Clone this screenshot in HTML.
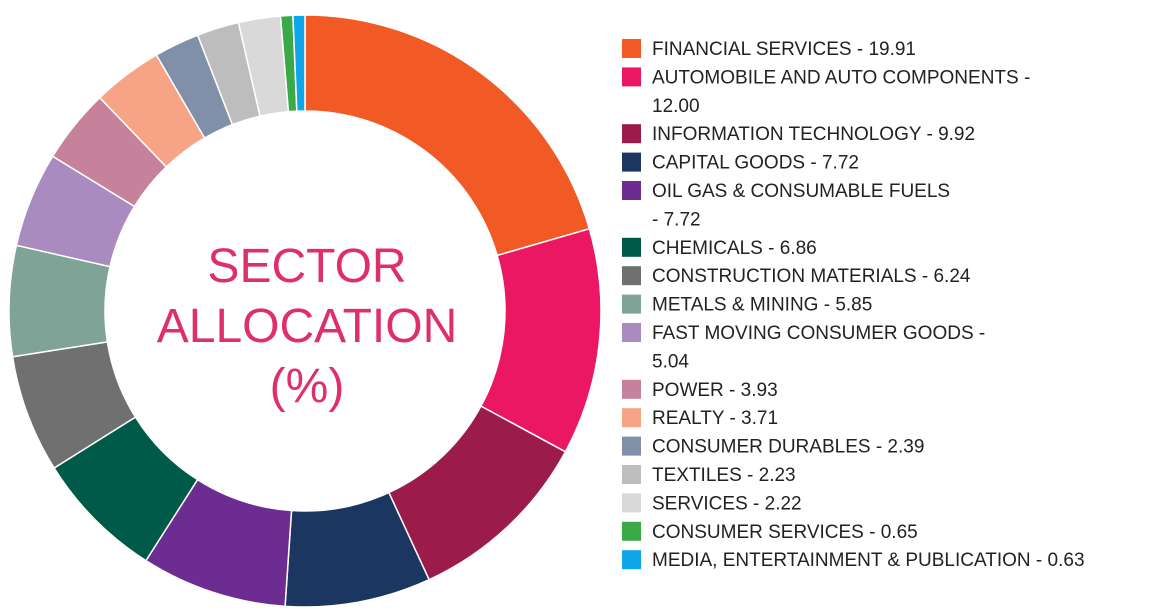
<!DOCTYPE html>
<html><head><meta charset="utf-8">
<style>
html,body{margin:0;padding:0;background:#fff;}
body{width:1168px;height:613px;overflow:hidden;position:relative;font-family:"Liberation Sans",sans-serif;}
svg{position:absolute;left:0;top:0;}
</style></head>
<body>
<svg id="chart" width="1168" height="613" viewBox="0 0 1168 613">
  <g id="slices"></g>
  <g id="center" font-family="Liberation Sans, sans-serif" font-size="48" fill="#df2f6b" text-anchor="middle">
    <text x="307" y="282">SECTOR</text>
    <text x="307" y="342">ALLOCATION</text>
    <text x="307" y="402">(%)</text>
  </g>
  <g id="legend" font-family="Liberation Sans, sans-serif" font-size="19" fill="#222"></g>
</svg>
<script>
const categories = ["FINANCIAL SERVICES","AUTOMOBILE AND AUTO COMPONENTS","INFORMATION TECHNOLOGY","CAPITAL GOODS","OIL GAS & CONSUMABLE FUELS","CHEMICALS","CONSTRUCTION MATERIALS","METALS & MINING","FAST MOVING CONSUMER GOODS","POWER","REALTY","CONSUMER DURABLES","TEXTILES","SERVICES","CONSUMER SERVICES","MEDIA, ENTERTAINMENT & PUBLICATION"];
const values = [19.91,12.00,9.92,7.72,7.72,6.86,6.24,5.85,5.04,3.93,3.71,2.39,2.23,2.22,0.65,0.63];
const labelLines = [["FINANCIAL SERVICES - 19.91"],["AUTOMOBILE AND AUTO COMPONENTS -","12.00"],["INFORMATION TECHNOLOGY - 9.92"],["CAPITAL GOODS - 7.72"],["OIL GAS & CONSUMABLE FUELS","- 7.72"],["CHEMICALS - 6.86"],["CONSTRUCTION MATERIALS - 6.24"],["METALS & MINING - 5.85"],["FAST MOVING CONSUMER GOODS -","5.04"],["POWER - 3.93"],["REALTY - 3.71"],["CONSUMER DURABLES - 2.39"],["TEXTILES - 2.23"],["SERVICES  - 2.22"],["CONSUMER SERVICES  - 0.65"],["MEDIA, ENTERTAINMENT & PUBLICATION  - 0.63"]];
const colors = ["#f15a24","#ec1763","#9b1b4b","#1b3660","#6d2c91","#005a4a","#707070","#7fa497","#a98bbf","#c5829a","#f7a386","#8090a8","#bdbdbd","#d9d9d9","#3aaa49","#0ea5e9"];

const NS="http://www.w3.org/2000/svg";
const cx=305, cy=311, R=296, r=200;
const total=values.reduce((a,b)=>a+b,0);
function pt(a,rad){return [cx+rad*Math.sin(a), cy-rad*Math.cos(a)];}
const gs=document.getElementById('slices');
let acc=0;
values.forEach((v,i)=>{
  const a0=acc/total*2*Math.PI; acc+=v; const a1=acc/total*2*Math.PI;
  const large=(a1-a0)>Math.PI?1:0;
  const [x0,y0]=pt(a0,R),[x1,y1]=pt(a1,R),[x2,y2]=pt(a1,r),[x3,y3]=pt(a0,r);
  const p=document.createElementNS(NS,'path');
  p.setAttribute('d',`M${x0},${y0}A${R},${R} 0 ${large} 1 ${x1},${y1}L${x2},${y2}A${r},${r} 0 ${large} 0 ${x3},${y3}Z`);
  p.setAttribute('fill',colors[i]);
  p.setAttribute('stroke','#fff');
  p.setAttribute('stroke-width','1.5');
  
  
  gs.appendChild(p);
});
const gl=document.getElementById('legend');
let line=0;
const y0=48, step=28.4;
labelLines.forEach((lines,i)=>{
  const g=document.createElementNS(NS,'g');
  
  
  const y=y0+line*step;
  const rc=document.createElementNS(NS,'rect');
  rc.setAttribute('x',622);rc.setAttribute('y',y-9);rc.setAttribute('width',19);rc.setAttribute('height',19);
  rc.setAttribute('fill',colors[i]);
  
  
  g.appendChild(rc);
  lines.forEach((t,k)=>{
    const tx=document.createElementNS(NS,'text');
    tx.setAttribute('x',652);tx.setAttribute('y',y+7+k*step);
    tx.textContent=t;
    
    
    g.appendChild(tx);
  });
  line+=lines.length;
  gl.appendChild(g);
});
</script>
</body></html>
